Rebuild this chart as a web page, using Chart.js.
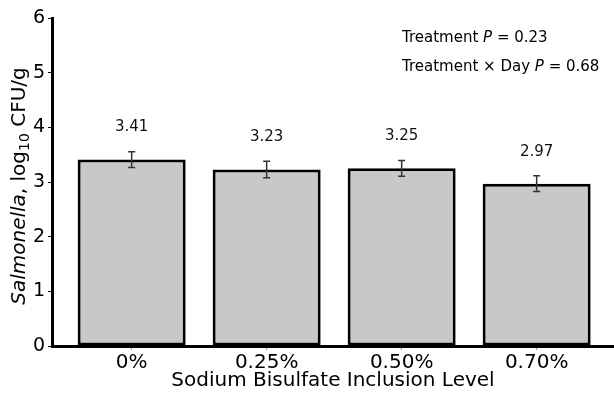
<!DOCTYPE html>
<html>
<head>
<meta charset="utf-8">
<script src="https://cdn.jsdelivr.net/npm/chart.js@4/dist/chart.umd.min.js"></script>
<style>
    html, body { margin: 0; padding: 0; background: #fff; }
    #wrap { width: 614px; height: 393px; }
</style>
</head>
<body>
<div id="wrap"><canvas id="chart" width="614" height="393"></canvas></div>
<script>
// ── Data ────────────────────────────────────────────────────────

const CATEGORIES = ['0%', '0.25%', '0.50%', '0.70%'];
const MEANS = [3.41, 3.23, 3.25, 2.97];
const SEM = [0.145, 0.15, 0.145, 0.145];
const Y_TICKS = [0, 1, 2, 3, 4, 5, 6];
const STATS = [
    ['Treatment ', 'P', ' = 0.23'],
    ['Treatment \u00d7 Day ', 'P', ' = 0.68'],
];

const FONT = "'DejaVu Sans', sans-serif";

// ── Plugins ─────────────────────────────────────────────────────

// error bars + value labels above each bar
const barExtras = {
    id: 'barExtras',
    afterDatasetsDraw(chart) {
        const ctx = chart.ctx;
        const x = chart.scales.x;
        const y = chart.scales.y;
        ctx.save();
        ctx.strokeStyle = '#333';
        ctx.lineWidth = 1.5;
        MEANS.forEach((m, i) => {
            const px = x.getPixelForValue(i);
            const top = y.getPixelForValue(m + SEM[i]);
            const bot = y.getPixelForValue(m - SEM[i]);
            ctx.beginPath();
            ctx.moveTo(px, top); ctx.lineTo(px, bot);
            ctx.moveTo(px - 3.5, top); ctx.lineTo(px + 3.5, top);
            ctx.moveTo(px - 3.5, bot); ctx.lineTo(px + 3.5, bot);
            ctx.stroke();

            ctx.fillStyle = '#111';
            ctx.font = `15px ${FONT}`;
            ctx.textAlign = 'center';
            ctx.textBaseline = 'middle';
            ctx.fillText(m.toFixed(2), px, y.getPixelForValue(m) - 32);
        });
        ctx.restore();
    }
};

// draws mixed-style runs of text (normal / italic) left to right
function drawRuns(ctx, runs, x, y, size) {
    let cx = x;
    runs.forEach((r) => {
        ctx.font = `${r.italic ? 'italic ' : ''}${r.size || size}px ${FONT}`;
        ctx.fillText(r.text, cx, y + (r.dy || 0));
        cx += ctx.measureText(r.text).width;
    });
    return cx - x;
}

const textExtras = {
    id: 'textExtras',
    afterDraw(chart) {
        const ctx = chart.ctx;
        ctx.save();
        ctx.fillStyle = '#000';
        ctx.textBaseline = 'middle';
        ctx.textAlign = 'left';

        // stats annotation
        STATS.forEach((s, i) => {
            drawRuns(ctx, [
                { text: s[0] }, { text: s[1], italic: true }, { text: s[2] }
            ], 402, 38 + i * 29, 15);
        });

        // y axis title
        const size = 20;
        const runs = [
            { text: 'Salmonella', italic: true },
            { text: ', log' },
            { text: '10', size: 14, dy: 5 },
            { text: ' CFU/g' },
        ];
        ctx.translate(20, 186);
        ctx.rotate(-Math.PI / 2);
        let w = 0;
        runs.forEach((r) => {
            ctx.font = `${r.italic ? 'italic ' : ''}${r.size || size}px ${FONT}`;
            w += ctx.measureText(r.text).width;
        });
        drawRuns(ctx, runs, -w / 2, 0, size);
        ctx.restore();
    }
};

// ── Chart ───────────────────────────────────────────────────────

new Chart(document.getElementById('chart'), {
    type: 'bar',
    data: {
        datasets: [{
            data: MEANS.map((v, i) => ({ x: i, y: v })),
            backgroundColor: '#c8c8c8',
            borderColor: '#000',
            borderWidth: 3,
            borderSkipped: false,
            barPercentage: 0.8,
            categoryPercentage: 1.0,
        }],
    },
    options: {
        responsive: false,
        animation: false,
        devicePixelRatio: 1,
        layout: { padding: { top: 18, right: 0, left: 0, bottom: 0 } },
        plugins: {
            legend: { display: false },
            tooltip: { enabled: false },
        },
        scales: {
            x: {
                type: 'linear',
                offset: false,
                min: -0.59,
                max: 3.573,
                afterBuildTicks: (s) => { s.ticks = CATEGORIES.map((c, i) => ({ value: i })); },
                afterFit: (s) => { s.height = 47; },
                ticks: {
                    callback: (v) => CATEGORIES[v],
                    color: '#000',
                    font: { family: FONT, size: 20 },
                    padding: 1,
                    maxRotation: 0,
                },
                grid: { offset: false, drawOnChartArea: false, drawTicks: true, tickLength: 4, color: '#999' },
                border: { color: '#000', width: 3 },
                title: {
                    display: true,
                    text: 'Sodium Bisulfate Inclusion Level',
                    color: '#000',
                    font: { family: FONT, size: 20 },
                    padding: { top: 0, bottom: 0 },
                },
            },
            y: {
                min: 0,
                max: 6,
                afterBuildTicks: (s) => { s.ticks = Y_TICKS.map((v) => ({ value: v })); },
                afterFit: (s) => { s.width = 52; },
                ticks: {
                    color: '#000',
                    font: { family: FONT, size: 19 },
                    padding: 3,
                },
                grid: { drawOnChartArea: false, drawTicks: true, tickLength: 4, color: '#000' },
                border: { color: '#000', width: 3 },
            },
        },
    },
    plugins: [barExtras, textExtras],
});
</script>
</body>
</html>
